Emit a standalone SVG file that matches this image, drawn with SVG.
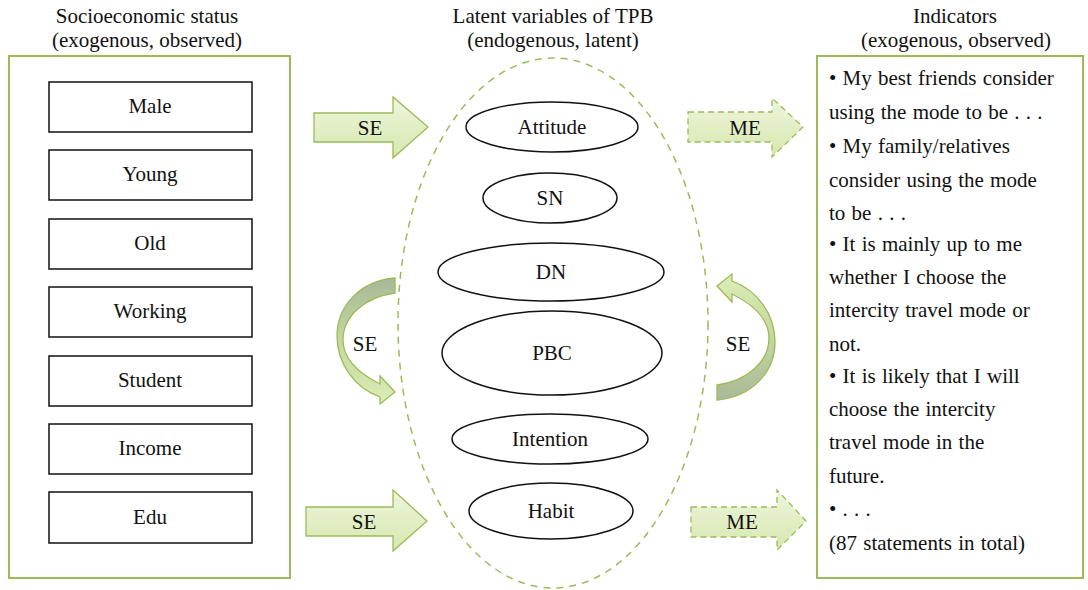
<svg xmlns="http://www.w3.org/2000/svg" width="1088" height="590" viewBox="0 0 1088 590">
<style>
text{font-family:"Liberation Serif","DejaVu Serif",serif;font-size:21px;fill:#111;}
.c{text-anchor:middle;}
.box{fill:#fff;stroke:#9bbb59;stroke-width:2;}
.node{fill:#fff;stroke:#111;stroke-width:1.5;}
.arr{fill:url(#ga);stroke:#9bbb59;stroke-width:1.3;}
.dash{stroke-dasharray:6 4;}
.ind text{word-spacing:1px;}
</style>
<defs>
<linearGradient id="ga" x1="0" y1="0" x2="0" y2="1">
<stop offset="0" stop-color="#eef5dd"/>
<stop offset="1" stop-color="#d6e8ae"/>
</linearGradient>
<linearGradient id="gc" x1="0" y1="0" x2="0" y2="1">
<stop offset="0" stop-color="#a9b897"/>
<stop offset="0.5" stop-color="#c4d8a0"/>
<stop offset="1" stop-color="#dcecb6"/>
</linearGradient>
</defs>

<text class="c" x="147" y="23">Socioeconomic status</text>
<text class="c" x="147" y="47">(exogenous, observed)</text>
<text class="c" x="553" y="23">Latent variables of TPB</text>
<text class="c" x="553" y="47">(endogenous, latent)</text>
<text class="c" x="955" y="23">Indicators</text>
<text class="c" x="956" y="47">(exogenous, observed)</text>

<rect class="box" x="9" y="56" width="281" height="522"/>
<rect class="box" x="817" y="56" width="266" height="522"/>
<ellipse cx="553" cy="323" rx="155" ry="265" fill="none" stroke="#9bbb59" stroke-width="1.5" stroke-dasharray="7 6"/>

<g id="male"><rect class="node" x="49" y="82" width="203" height="50"/><text class="c" x="150" y="113">Male</text></g>
<g id="young"><rect class="node" x="49" y="150" width="203" height="50"/><text class="c" x="150" y="181">Young</text></g>
<g id="old"><rect class="node" x="49" y="219" width="203" height="50"/><text class="c" x="150" y="250">Old</text></g>
<g id="working"><rect class="node" x="49" y="287" width="203" height="50"/><text class="c" x="150" y="318">Working</text></g>
<g id="student"><rect class="node" x="49" y="356" width="203" height="50"/><text class="c" x="150" y="387">Student</text></g>
<g id="income"><rect class="node" x="49" y="424" width="203" height="50"/><text class="c" x="150" y="455">Income</text></g>
<g id="edu"><rect class="node" x="49" y="492" width="203" height="51"/><text class="c" x="150" y="524">Edu</text></g>

<g id="attitude"><ellipse class="node" cx="552" cy="127" rx="86" ry="25"/><text class="c" x="552" y="134">Attitude</text></g>
<g id="sn"><ellipse class="node" cx="550" cy="198" rx="67" ry="25"/><text class="c" x="550" y="205">SN</text></g>
<g id="dn"><ellipse class="node" cx="551" cy="272" rx="113" ry="29"/><text class="c" x="551" y="279">DN</text></g>
<g id="pbc"><ellipse class="node" cx="552" cy="353" rx="110" ry="42"/><text class="c" x="552" y="360">PBC</text></g>
<g id="intention"><ellipse class="node" cx="550" cy="439" rx="98" ry="25"/><text class="c" x="550" y="446">Intention</text></g>
<g id="habit"><ellipse class="node" cx="551" cy="511" rx="82" ry="28"/><text class="c" x="551" y="518">Habit</text></g>

<g id="indicators" class="ind">
<text x="829" y="85">• My best friends consider</text>
<text x="829" y="119">using the mode to be . . .</text>
<text x="829" y="153">• My family/relatives</text>
<text x="829" y="187">consider using the mode</text>
<text x="829" y="220">to be . . .</text>
<text x="829" y="251">• It is mainly up to me</text>
<text x="829" y="284">whether I choose the</text>
<text x="829" y="317">intercity travel mode or</text>
<text x="829" y="351">not.</text>
<text x="829" y="383">• It is likely that I will</text>
<text x="829" y="416">choose the intercity</text>
<text x="829" y="449">travel mode in the</text>
<text x="829" y="483">future.</text>
<text x="829" y="516">• . . .</text>
<text x="829" y="550">(87 statements in total)</text>
</g>

<g id="connectors">
<path class="arr" d="M314,113 H393 V97 L428,127 L393,158 V142 H314 Z"/>
<text class="c" x="370" y="135">SE</text>
<path class="arr" d="M306,507 H393 V490 L427,521 L393,551 V536 H306 Z"/>
<text class="c" x="364" y="529">SE</text>
<path class="arr dash" d="M688,112 H772 V98 L803,127 L772,157 V142 H688 Z"/>
<text class="c" x="745" y="135">ME</text>
<path class="arr dash" d="M691,507 H777 V490 L806,521 L777,550 V537 H691 Z"/>
<text class="c" x="742" y="529">ME</text>
<path id="curveL" fill="url(#gc)" stroke="#9bbb59" stroke-width="1.3" d="M395,278 C360,281 337,306 337,336 C337,364 355,388 380,397 L380,404 L395,392 L380,376 L380,384 C360,374 343,360 343,340 C343,316 365,297 395,293 Z"/>
<text class="c" x="365" y="351">SE</text>
<path id="curveR" fill="url(#gc)" stroke="#9bbb59" stroke-width="1.3" transform="rotate(180 556 339)" d="M395,278 C360,281 337,306 337,336 C337,364 355,388 380,397 L380,404 L395,392 L380,376 L380,384 C360,374 343,360 343,340 C343,316 365,297 395,293 Z"/>
<text class="c" x="738" y="351">SE</text>
</g>
</svg>
